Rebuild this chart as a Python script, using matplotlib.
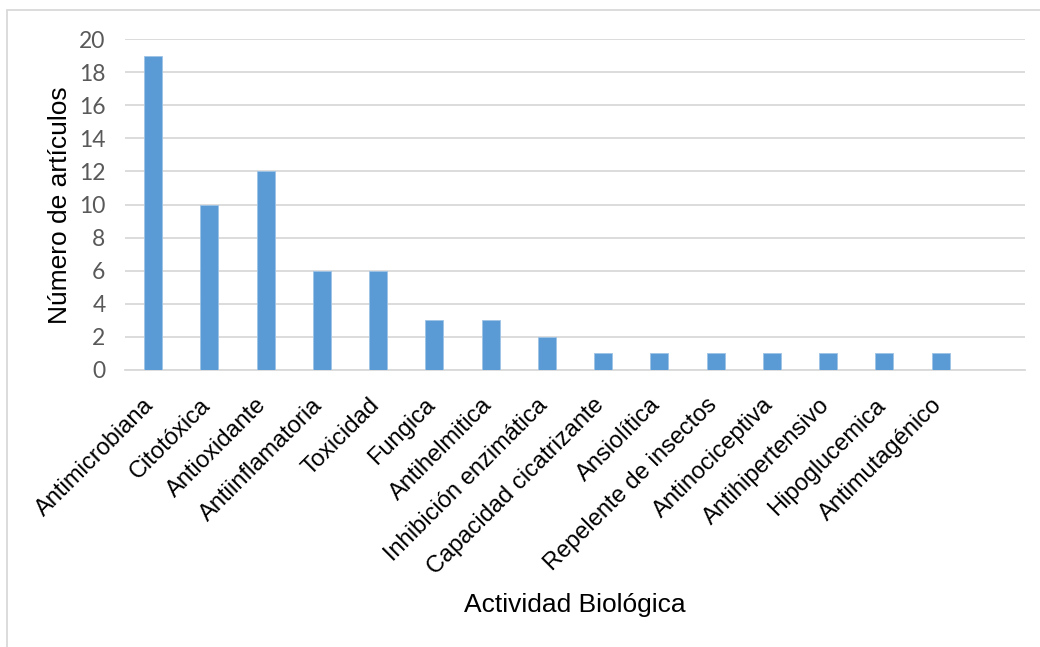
import matplotlib
matplotlib.use("Agg")
import matplotlib.pyplot as plt
from matplotlib.patches import Rectangle
from matplotlib.transforms import ScaledTranslation

categories = ["Antimicrobiana", "Citotóxica", "Antioxidante", "Antiinflamatoria",
              "Toxicidad", "Fungica", "Antihelmitica", "Inhibición enzimática",
              "Capacidad cicatrizante", "Ansiolítica", "Repelente de insectos",
              "Antinociceptiva", "Antihipertensivo", "Hipoglucemica", "Antimutagénico", ""]
values = [19, 10, 12, 6, 6, 3, 3, 2, 1, 1, 1, 1, 1, 1, 1, 0]
yticks = [0, 2, 4, 6, 8, 10, 12, 14, 16, 18, 20]

W, H = 1040, 647
fig = plt.figure(figsize=(W / 100, H / 100), dpi=100)

# outer chart frame (light gray)
fig.patches.append(Rectangle((7 / W, -0.1), 1.2, (H - 10) / H + 0.1,
                             transform=fig.transFigure, fill=False,
                             edgecolor="#D9D9D9", linewidth=1.3))

ax = fig.add_axes([125 / W, (H - 370) / H, 900 / W, 331 / H])
x = list(range(len(categories)))
ax.bar(x[:15], values[:15], width=0.32, color="#5B9BD5", edgecolor="#9DC3E6",
       linewidth=0.6, zorder=3)
ax.set_xlim(-0.5, len(categories) - 0.5)
ax.set_ylim(0, 20)
ax.set_yticks(yticks)
ax.set_yticklabels([str(t) for t in yticks], fontsize=16.5, color="#595959",
                   family=["Lato", "DejaVu Sans"])
ax.yaxis.grid(True, color="#D9D9D9", linewidth=1.3, zorder=0)
ax.set_axisbelow(True)
for s in ["top", "right", "left"]:
    ax.spines[s].set_visible(False)
ax.spines["bottom"].set_color("#D9D9D9")
ax.spines["bottom"].set_linewidth(1.3)
ax.tick_params(axis="both", length=0)
ax.tick_params(axis="y", pad=14)

ax.set_xticks(x)
ax.set_xticklabels(categories, rotation=45, ha="right", va="top",
                   rotation_mode="anchor", fontsize=17, color="black",
                   family=["Liberation Sans", "DejaVu Sans"])
ax.tick_params(axis="x", pad=8)
offset = ScaledTranslation(-10 / 100, -13 / 100, fig.dpi_scale_trans)
for lbl in ax.get_xticklabels():
    lbl.set_transform(lbl.get_transform() + offset)

fig.text(60 / W, 1 - 205 / H, "Número de artículos", rotation=90, ha="center",
         va="center", fontsize=19, family=["Liberation Sans", "DejaVu Sans"])
fig.text(575 / W, 1 - 605 / H, "Actividad Biológica", ha="center", va="center",
         fontsize=19, family=["Liberation Sans", "DejaVu Sans"])

fig.savefig("out.png", dpi=100, facecolor="white")
